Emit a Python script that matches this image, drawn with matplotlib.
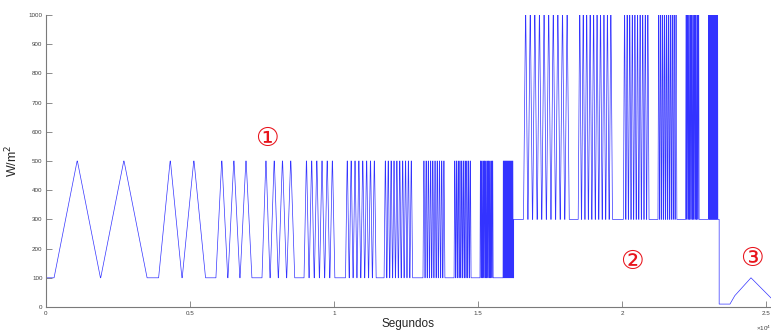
import matplotlib
matplotlib.use("Agg")
import matplotlib.pyplot as plt

# ---------------- data ----------------
# Zone 1: ramps between 100 and 500 W/m2
z1_low, z1_high = 100, 500
z1_slopes = [0.5, 1, 2, 3, 5, 7, 10, 14, 20, 30, 50]          # W/m2 per s
z1_reps = [2, 2, 3, 4, 6, 8, 10, 10, 10, 10, 10]
z1_starts = [280, 3910, 5900, 7500, 8960, 10400, 11740, 13090, 14170, 15070, 15870]  # s

# Zone 2: ramps between 300 and 1000 W/m2
z2_low, z2_high = 300, 1000
z2_step = 16240
z2_slopes = [10, 14, 20, 30, 50, 100]
z2_reps = [10, 10, 10, 10, 10, 10]
z2_starts = [16580, 18480, 20050, 21250, 22210, 23000]
z2_end = 23375

# Zone 3: start-up / shut-down ramp
z3_t = [23375, 23750, 23920, 24480, 25175]
z3_v = [10, 10, 39, 100, 31]

dwell = 10  # s at each ramp end

xtick_vals = [0, 5000, 10000, 15000, 20000, 25000]
xtick_labels = ["0", "0.5", "1", "1.5", "2", "2.5"]
ytick_vals = list(range(0, 1001, 100))

markers = ["\u2460", "\u2461", "\u2462"]
marker_x = [7660, 20350, 24520]
marker_y = [574, 155, 165]

# ---------------- build profile ----------------
t = [0.0]
v = [z1_low]


def add_groups(starts, slopes, reps, low, high):
    for s0, sl, n in zip(starts, slopes, reps):
        cur = s0
        t.append(cur); v.append(low)
        d = (high - low) / sl
        for _ in range(n):
            cur += d; t.append(cur); v.append(high)
            cur += dwell; t.append(cur); v.append(high)
            cur += d; t.append(cur); v.append(low)
            cur += dwell; t.append(cur); v.append(low)


add_groups(z1_starts, z1_slopes, z1_reps, z1_low, z1_high)
t.append(z2_step); v.append(z1_low)
t.append(z2_step); v.append(z2_low)
add_groups(z2_starts, z2_slopes, z2_reps, z2_low, z2_high)
t.append(z2_end); v.append(z2_low)
t.extend(z3_t); v.extend(z3_v)

# ---------------- plot ----------------
plt.rcParams["font.family"] = ["Liberation Sans", "DejaVu Sans"]
W, H = 771, 335
fig = plt.figure(figsize=(W / 100, H / 100), dpi=100)
ax = fig.add_axes([46 / W, 1 - 307 / H, 1 - 46 / W, (307 - 15) / H])

ax.plot(t, v, color=(0, 0, 1), lw=0.5, alpha=0.8)

ax.set_xlim(0, 25175)
ax.set_ylim(0, 1000)
ax.set_xticks(xtick_vals)
ax.set_xticklabels(xtick_labels)
ax.set_yticks(ytick_vals)

axcol = "#7a7a7a"
for side in ["top", "right"]:
    ax.spines[side].set_visible(False)
for side in ["left", "bottom"]:
    ax.spines[side].set_color(axcol)
    ax.spines[side].set_linewidth(0.8)
ax.tick_params(direction="in", length=4, width=0.6, color=axcol,
               labelsize=4.5, labelcolor="#404040")
ax.tick_params(axis="y", pad=2.5)
ax.tick_params(axis="x", pad=3)

ax.set_xlabel("Segundos", fontsize=8.5, color="#262626", labelpad=1)
ax.set_ylabel("W/m$^2$", fontsize=9, color="#262626", labelpad=6)

fig.text(756 / W, 1 - 328 / H, "\u00d710$^4$", fontsize=4.5, color="#404040",
         ha="left", va="center")

for m, mx, my in zip(markers, marker_x, marker_y):
    ax.text(mx, my, m, fontsize=19, color="#e8141c", ha="center", va="center",
            family=["DejaVu Sans", "Noto Sans CJK JP"])

fig.savefig("out.png", dpi=100)
